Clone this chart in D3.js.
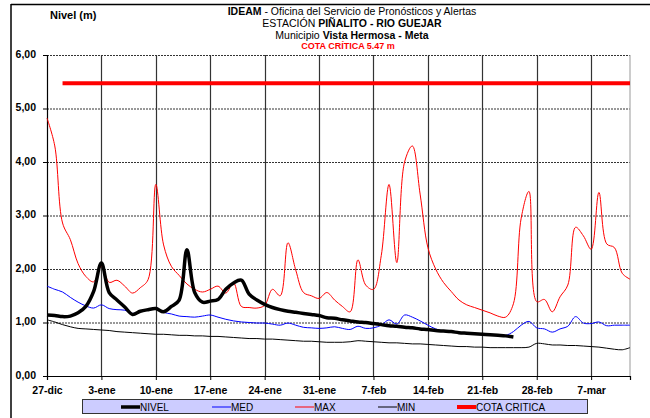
<!DOCTYPE html>
<html><head><meta charset="utf-8">
<script src="https://cdn.jsdelivr.net/npm/d3@7"></script>
<style>
body{margin:0;background:#fff;}
svg{display:block;font-family:"Liberation Sans",Arial,sans-serif;}
</style></head>
<body><svg id="c" width="650" height="418"></svg>
<script>
const tickLabels = ["27-dic","3-ene","10-ene","17-ene","24-ene","31-ene","7-feb","14-feb","21-feb","28-feb","7-mar"];
const yTicks = [0,1,2,3,4,5,6];
const cotaCritica = 5.47;
const cotaStartDay = 2;
const nivel = [1.14,1.13,1.11,1.12,1.18,1.30,1.58,2.11,1.56,1.42,1.29,1.15,1.21,1.24,1.26,1.20,1.30,1.42,2.36,1.56,1.38,1.40,1.43,1.62,1.74,1.79,1.53,1.42,1.34,1.28,1.24,1.21,1.19,1.17,1.15,1.13,1.09,1.08,1.05,1.03,1.01,1.00,0.98,0.96,0.94,0.93,0.91,0.90,0.88,0.87,0.85,0.84,0.83,0.81,0.80,0.79,0.78,0.77,0.76,0.75,0.73];
const med = [1.68,1.62,1.57,1.47,1.38,1.31,1.27,1.33,1.26,1.24,1.23,1.17,1.20,1.24,1.28,1.19,1.16,1.12,1.11,1.10,1.12,1.14,1.10,1.06,1.03,1.01,1.00,0.99,0.99,0.97,0.95,0.99,0.95,0.91,0.90,0.89,0.90,0.92,0.89,0.87,0.93,0.89,0.90,0.95,1.05,0.97,1.14,1.10,1.03,0.95,0.88,0.84,0.82,0.81,0.80,0.79,0.79,0.78,0.77,0.76,0.83,0.95,1.02,0.90,0.88,0.82,0.88,0.93,1.11,0.99,0.98,1.01,0.94,0.95,0.95,0.95];
const max = [4.82,4.30,2.86,2.55,2.10,1.86,1.76,2.05,1.75,1.79,1.68,1.55,1.65,1.80,3.58,2.45,2.05,1.88,1.72,1.62,1.57,1.62,1.68,1.55,1.74,1.30,1.28,1.27,1.32,1.62,1.50,2.49,1.98,1.56,1.50,1.45,1.56,1.42,1.30,1.20,2.17,1.70,1.62,2.25,3.58,2.12,4.00,4.30,3.40,2.40,2.00,1.75,1.58,1.42,1.33,1.28,1.23,1.18,1.12,1.10,1.35,2.95,3.45,1.39,1.43,1.20,1.48,1.70,2.78,2.62,2.37,3.43,2.47,2.40,1.92,1.81];
const min = [1.05,1.01,0.96,0.92,0.89,0.88,0.87,0.86,0.85,0.83,0.82,0.81,0.80,0.79,0.78,0.78,0.77,0.76,0.76,0.75,0.75,0.74,0.74,0.73,0.72,0.71,0.70,0.70,0.69,0.69,0.68,0.67,0.66,0.65,0.65,0.64,0.63,0.63,0.63,0.64,0.66,0.65,0.64,0.63,0.62,0.62,0.61,0.60,0.60,0.59,0.58,0.57,0.56,0.55,0.55,0.54,0.54,0.53,0.53,0.53,0.53,0.53,0.54,0.61,0.60,0.58,0.58,0.57,0.57,0.56,0.55,0.54,0.52,0.50,0.49,0.53];

const svg = d3.select("#c");
const L = 47, R = 630, T = 55, B = 376;
const x = d3.scaleLinear().domain([0, 75]).range([L, R]);
const y = d3.scaleLinear().domain([0, 6]).range([B, T]);

// outer frame
svg.append("line").attr("x1",11).attr("x2",650).attr("y1",4.5).attr("y2",4.5).attr("stroke","#000").attr("stroke-width",1.5);
svg.append("line").attr("x1",11).attr("x2",11).attr("y1",4).attr("y2",418).attr("stroke","#000").attr("stroke-width",1.5);

// titles
const cx = 352;
const t = svg.append("g").attr("text-anchor","middle").attr("font-size",10.5);
const t1 = t.append("text").attr("x",cx).attr("y",15);
t1.append("tspan").attr("font-weight","bold").text("IDEAM");
t1.append("tspan").text(" - Oficina del Servicio de Pronósticos y Alertas");
const t2 = t.append("text").attr("x",cx).attr("y",27);
t2.append("tspan").text("ESTACIÓN ");
t2.append("tspan").attr("font-weight","bold").text("PIÑALITO  - RIO GUEJAR");
const t3 = t.append("text").attr("x",cx).attr("y",38.5);
t3.append("tspan").text("Municipio ");
t3.append("tspan").attr("font-weight","bold").text("Vista Hermosa - Meta");
t.append("text").attr("x",cx-4).attr("y",49).attr("font-size",9).attr("font-weight","bold").attr("fill","#ff0000").text("COTA CRÍTICA  5.47 m");
svg.append("text").attr("x",50).attr("y",19).attr("font-size",11).attr("font-weight","bold").text("Nivel (m)");

// horizontal dotted gridlines
svg.append("g").selectAll("line").data(yTicks.filter(v=>v>0)).join("line")
  .attr("x1",L).attr("x2",R).attr("y1",d=>y(d)+0.5).attr("y2",d=>y(d)+0.5)
  .attr("stroke","#333").attr("stroke-width",1).attr("stroke-dasharray","2,1");
// vertical week gridlines
svg.append("g").selectAll("line").data(tickLabels.map((d,i)=>i*7).filter(d=>d>0)).join("line")
  .attr("x1",d=>Math.round(x(d))+0.5).attr("x2",d=>Math.round(x(d))+0.5).attr("y1",T).attr("y2",B)
  .attr("stroke","#333").attr("stroke-width",1.2);
// right border
svg.append("line").attr("x1",R).attr("x2",R).attr("y1",T).attr("y2",B).attr("stroke","#aaa").attr("stroke-width",1.2);

// axes
const yAxis = d3.axisLeft(y).tickValues(yTicks).tickSize(4).tickFormat(d=>d3.format(".2f")(d).replace(".",","));
const gy = svg.append("g").attr("transform",`translate(${L},0)`).call(yAxis);
gy.selectAll("text").attr("font-size",10.5).attr("font-weight","bold").attr("fill","#000").attr("dx","-4").attr("dy","0.2em");
gy.select(".domain").attr("stroke","#000").attr("stroke-width",1.2);
const xAxis = d3.axisBottom(x).tickValues(tickLabels.map((d,i)=>i*7)).tickSize(4).tickFormat((d,i)=>tickLabels[i]);
const gx = svg.append("g").attr("transform",`translate(0,${B})`).call(xAxis);
gx.selectAll("text").attr("font-size",10.5).attr("font-weight","bold").attr("fill","#000").attr("dy","1.0em");
gx.select(".domain").attr("stroke","#000").attr("stroke-width",1.2);
svg.selectAll(".tick line").attr("stroke","#000");

const line = d3.line().x((d,i)=>x(i)).y(d=>y(d)).curve(d3.curveCatmullRom.alpha(0.5));
const plot = svg.append("g");
plot.append("path").attr("d",line(min)).attr("fill","none").attr("stroke","#000").attr("stroke-width",1);
plot.append("path").attr("d",line(max)).attr("fill","none").attr("stroke","#ff0000").attr("stroke-width",1);
plot.append("path").attr("d",line(med)).attr("fill","none").attr("stroke","#0000ff").attr("stroke-width",1);
plot.append("path").attr("d",line(nivel)).attr("fill","none").attr("stroke","#000").attr("stroke-width",3.5).attr("stroke-linejoin","round");
plot.append("line").attr("x1",x(cotaStartDay)).attr("x2",x(75)).attr("y1",y(cotaCritica)).attr("y2",y(cotaCritica))
  .attr("stroke","#ff0000").attr("stroke-width",4);

// legend
const lg = svg.append("g");
lg.append("rect").attr("x",82.5).attr("y",399.5).attr("width",505).attr("height",14).attr("fill","#ccccff").attr("stroke","#333").attr("stroke-width",1);
const items = [
  {name:"NIVEL", color:"#000", w:3.5, x:121},
  {name:"MED", color:"#0000ff", w:1, x:212},
  {name:"MAX", color:"#ff0000", w:1, x:295},
  {name:"MIN", color:"#000", w:1, x:378},
  {name:"COTA CRITICA", color:"#ff0000", w:4, x:457}
];
items.forEach(it=>{
  lg.append("line").attr("x1",it.x).attr("x2",it.x+19).attr("y1",407).attr("y2",407).attr("stroke",it.color).attr("stroke-width",it.w);
  lg.append("text").attr("x",it.x+19).attr("y",410.5).attr("font-size",10).text(it.name);
});
</script></body></html>
